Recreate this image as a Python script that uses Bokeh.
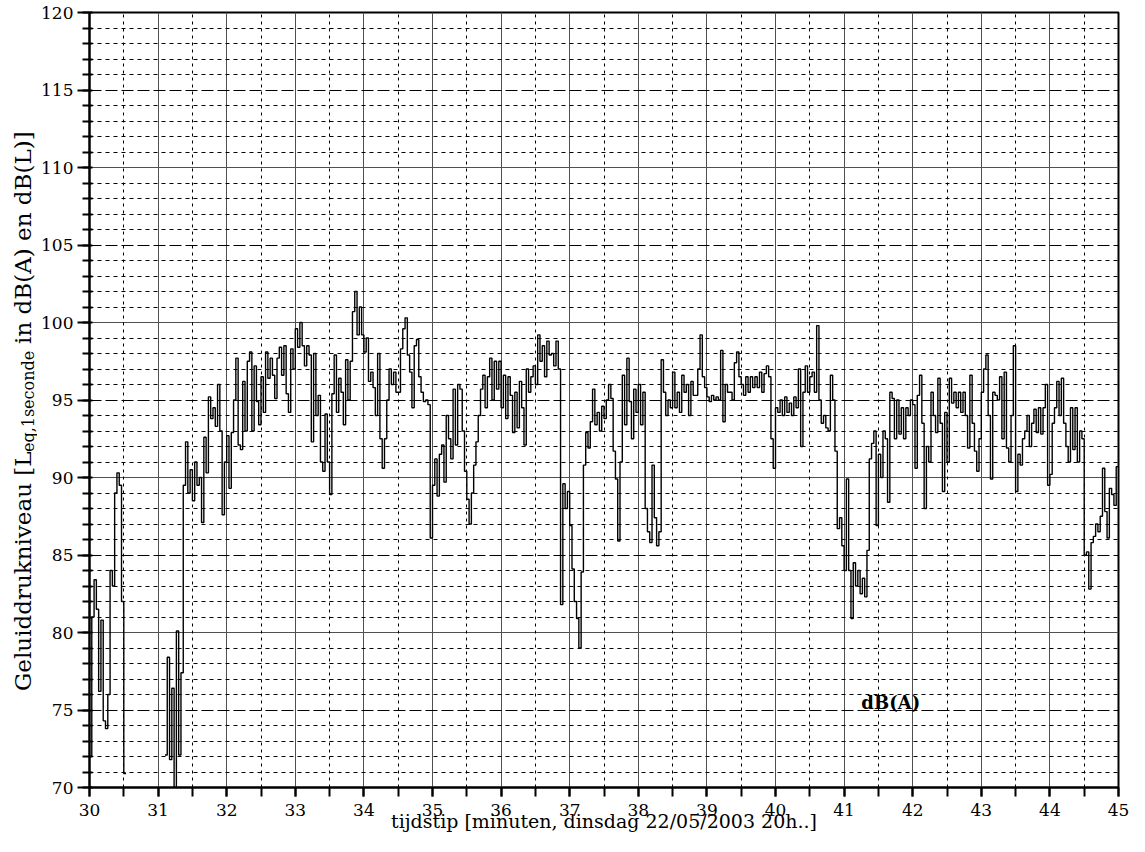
import numpy as np
from bokeh.plotting import figure
from bokeh.layouts import row
from bokeh.models import Range1d, SingleIntervalTicker, FixedTicker, Grid, Label
from bokeh.core.properties import value
from bokeh.embed import file_html
from bokeh.resources import INLINE

nan = float("nan")

# Sound level (dB(A)), one value every 2 seconds, one list per minute (20h30 .. 20h44)
m30 = [72, 81, 83.4, 81.5, 76.2, 80.8, 74.3, 73.8, 76, 84, 83, 89, 90.3, 89.5, 82,
       70.9, nan, nan, nan, nan, nan, nan, nan, nan, nan, nan, nan, nan, nan, nan]
m31 = [nan, nan, nan, 72.1, 78.4, 71.8, 76.4, 70.0, 80.1, 72.1, 77.4, 89.5, 92.3, 89, 90.5,
       88.5, 91, 89.5, 90, 87.1, 92.6, 90.3, 95.2, 93.8, 94.5, 93.3, 96, 93, 87.6, 91]
m32 = [92.7, 89.3, 92.9, 95, 97.7, 92.1, 91.8, 96.2, 93, 97.5, 98.1, 93, 97.2, 94.9, 93.4,
       96.5, 94.2, 98.1, 96.4, 97.7, 96.6, 95.1, 97.7, 98.4, 96.6, 98.5, 95.4, 94.2, 98.3, 97]
m33 = [99.6, 98.4, 100, 98.5, 97.2, 98.5, 97.9, 92.3, 98, 94, 95.3, 91, 90.4, 94.1, 91,
       88.9, 95.4, 97.9, 94.2, 96.4, 95.5, 93.4, 97.6, 95, 97.5, 100.7, 102, 99.2, 101, 99.2]
m34 = [98.1, 99, 96.2, 96.8, 95.8, 94, 98, 92.5, 90.6, 92.5, 95, 97, 96, 96.8, 95.5,
       95.5, 98.3, 99.6, 100.3, 97.9, 96.8, 94.5, 98.5, 98.9, 96.5, 95.5, 94.9, 95, 94.7, 86.1]
m35 = [89.5, 91.2, 88.8, 91.5, 92.1, 89.7, 94, 92.5, 91.2, 95.7, 92.1, 96, 95.7, 93, 90.4,
       88.6, 87, 89, 90.8, 92.3, 94, 95.7, 96.6, 94.5, 96.5, 97.7, 95, 97.5, 95.7, 97.5]
m36 = [94.5, 96.6, 93.8, 96.5, 95.3, 92.9, 95.5, 93.2, 96.2, 94.5, 92.1, 97, 95.5, 96.5, 97.2,
       96, 99.2, 97.5, 98.5, 96.5, 98.8, 97.9, 98, 97.2, 98.8, 97, 81.8, 89.6, 88, 89.1]
m37 = [86.9, 84.1, 82, 80.9, 79, 83.9, 90.8, 92.9, 91.9, 93.6, 95.7, 93.4, 94.2, 93, 94.6,
       93.8, 95, 96, 95.1, 91.7, 89.9, 85.9, 91, 96.6, 93.4, 97.7, 94.9, 92.5, 95.7, 94.2]
m38 = [96, 93.4, 95.5, 88, 86.5, 85.8, 90.8, 87.4, 85.6, 86.5, 97.6, 95.5, 94, 95, 94.5,
       96.8, 94.5, 95.5, 94.2, 96.6, 95.5, 96, 94, 96.2, 95.3, 95.3, 97, 99.2, 96.5, 95.8]
m39 = [95.2, 94.9, 95.3, 95, 95.2, 95, 98.2, 93.6, 96, 95.5, 95.5, 95, 97.4, 98.1, 96.5,
       96, 95.3, 96.5, 95.5, 96.5, 95.8, 96.5, 95.8, 96.8, 95.5, 96.7, 97.2, 96.5, 92.5, 90.6]
m40 = [94.5, 94.2, 95, 94, 95.2, 94.2, 94.8, 94, 95.2, 94.5, 97, 92, 95.5, 97.2, 95.5,
       96.5, 96.8, 95.5, 99.8, 95, 93.5, 94, 93.2, 93, 96.6, 95, 91.7, 86.7, 87.4, 85.6]
m41 = [84, 89.9, 84, 80.9, 84.5, 83, 84, 82.5, 83.5, 82.3, 85.3, 91.2, 92.2, 93, 86.9,
       91.5, 90, 93, 92.5, 88.4, 95.5, 95.1, 92.5, 95, 92.8, 94.5, 92.5, 94.5, 94, 95]
m42 = [94.7, 90.6, 95.3, 96.6, 93.5, 88, 92, 91, 95.5, 94, 92.9, 96.4, 93.5, 89.1, 94.2,
       91, 96.4, 94.8, 95.5, 94.5, 95.5, 94.2, 95.5, 94, 91.9, 96.6, 93.5, 91.7, 90.4, 92.5]
m43 = [95.5, 97, 97.9, 94, 89.9, 95.5, 95.3, 95, 96.5, 92.5, 96.8, 91.9, 91, 94, 98.5,
       89.1, 91.5, 90.8, 92.5, 93, 94, 92, 93.5, 94.4, 92.9, 94.5, 92.8, 94.5, 96, 89.5]
m44 = [90.2, 93.5, 94.5, 96.2, 94, 96.4, 93.5, 92, 91, 94.5, 91.8, 94.5, 91, 93, 92.5,
       85, 85.2, 82.8, 85.8, 86.2, 87, 86.5, 87.5, 90.6, 87.8, 86.1, 89.3, 88.9, 88.2, 90.7]

minutes = [m30, m31, m32, m33, m34, m35, m36, m37, m38, m39, m40, m41, m42, m43, m44]
step_seconds = 2
x_start, x_end = 30, 45
y_start, y_end = 70, 120

x_title = "tijdstip [minuten, dinsdag 22/05/2003 20h..]"
y_title_parts = ["Geluiddrukniveau [L", "eq,1seconde", "in dB(A) en dB(L)]"]
series_label = "dB(A)"

levels = np.array([v for m in minutes for v in m], dtype=float)
edges = x_start + np.arange(len(levels) + 1) * step_seconds / 60.0

SERIF = "DejaVu Serif"
TOTAL_W, TOTAL_H = 1129, 836
SIDE_W = 37
TOP, BOTTOM = 12, 49

# ---------------- main plot ----------------
p = figure(width=TOTAL_W - SIDE_W, height=TOTAL_H,
           x_range=Range1d(x_start, x_end), y_range=Range1d(y_start, y_end),
           output_backend="svg", toolbar_location=None,
           min_border_left=52, min_border_right=11, min_border_top=TOP, min_border_bottom=BOTTOM)
p.background_fill_color = "white"
p.border_fill_color = "white"
p.outline_line_color = "black"
p.outline_line_width = 2

# grids
p.xgrid.ticker = SingleIntervalTicker(interval=1)
p.xgrid.grid_line_color = "#505050"
p.xgrid.grid_line_width = 1
half_minutes = [x_start + 0.5 + i for i in range(x_end - x_start)]
p.add_layout(Grid(dimension=0, ticker=FixedTicker(ticks=half_minutes),
                  grid_line_color="black", grid_line_width=1, grid_line_dash="3 4"))
tens = [v for v in range(y_start, y_end + 1) if v % 10 == 0]
fives = [v for v in range(y_start, y_end + 1) if v % 5 == 0 and v % 10 != 0]
ones = [v for v in range(y_start, y_end + 1) if v % 5 != 0]
p.ygrid.ticker = FixedTicker(ticks=tens)
p.ygrid.grid_line_color = "#505050"
p.ygrid.grid_line_width = 1
p.add_layout(Grid(dimension=1, ticker=FixedTicker(ticks=fives),
                  grid_line_color="black", grid_line_width=1, grid_line_dash="12 4"))
p.add_layout(Grid(dimension=1, ticker=FixedTicker(ticks=ones),
                  grid_line_color="black", grid_line_width=1, grid_line_dash="4 4"))

# axes
for ax in (p.xaxis, p.yaxis):
    ax.axis_line_color = "black"
    ax.axis_line_width = 2
    ax.major_tick_line_color = "black"
    ax.minor_tick_line_color = "black"
    ax.major_tick_line_width = 2
    ax.minor_tick_line_width = 2
    ax.major_label_text_font = SERIF
    ax.major_label_text_font_size = "17px"
    ax.major_label_text_color = "black"
p.xaxis.ticker = SingleIntervalTicker(interval=1, num_minor_ticks=2)
p.xaxis.major_tick_out = 9
p.xaxis.major_tick_in = 0
p.xaxis.minor_tick_out = 9
p.xaxis.minor_tick_in = 0
p.xaxis.major_label_standoff = 7
p.xaxis.axis_label = x_title
p.xaxis.axis_label_text_font = SERIF
p.xaxis.axis_label_text_font_size = "19px"
p.xaxis.axis_label_text_font_style = "normal"
p.xaxis.axis_label_text_color = "black"
p.xaxis.axis_label_standoff = -9
p.yaxis.ticker = SingleIntervalTicker(interval=5, num_minor_ticks=5)
p.yaxis.major_tick_out = 12
p.yaxis.major_tick_in = 0
p.yaxis.minor_tick_out = 7
p.yaxis.minor_tick_in = 3
p.yaxis.major_label_standoff = 4

# data: step line, broken where values are missing
valid = ~np.isnan(levels)
flags = np.diff(np.concatenate([[0], valid.astype(int), [0]]))
starts = np.flatnonzero(flags == 1)
stops = np.flatnonzero(flags == -1)
for a, b in zip(starts, stops):
    xs = edges[a:b + 1]
    ys = np.append(levels[a:b], levels[b - 1])
    p.step(xs, ys, mode="after", line_color="black", line_width=1.4)

p.add_layout(Label(x=41.68, y=75.5, text=series_label, text_font=SERIF,
                   text_font_size="18px", text_font_style="bold", text_color="black",
                   text_align="center", text_baseline="alphabetic"))

# ---------------- side strip with the rotated y title ----------------
# its frame is aligned with the main frame, so it shares the dB scale
s = figure(width=SIDE_W, height=TOTAL_H, x_range=Range1d(0, SIDE_W), y_range=p.y_range,
           output_backend="svg", toolbar_location=None, x_axis_type=None, y_axis_type=None,
           min_border_left=0, min_border_right=0, min_border_top=TOP, min_border_bottom=BOTTOM)
s.outline_line_color = None
s.background_fill_color = "white"
s.border_fill_color = "white"

px_per_db = (TOTAL_H - TOP - BOTTOM) / (y_end - y_start)

def page_y_to_db(py):
    return y_end - (py - TOP) / px_per_db

main_fs, sub_fs = 23, 16
w1 = 10.37 * main_fs          # estimated width of first piece
w2 = 6.32 * sub_fs            # estimated width of subscript
w3 = 9.21 * main_fs           # estimated width of last piece
gap = 0.318 * main_fs         # a space
start_py = 690
main_base, sub_base = 30, 34
mid = 0.346                   # em offset from baseline to the middle of the text box
pieces = [
    (y_title_parts[0], main_base - mid * main_fs, start_py - w1 / 2, main_fs),
    (y_title_parts[1], sub_base - mid * sub_fs, start_py - w1 - w2 / 2, sub_fs),
    (y_title_parts[2], main_base - mid * main_fs, start_py - w1 - w2 - gap - w3 / 2, main_fs),
]
for txt, px, py, fs in pieces:
    s.text(x=[px], y=[page_y_to_db(py)], text=[txt], angle=np.pi / 2,
           text_font=value(SERIF), text_font_size=value(f"{fs}px"),
           text_align="center", text_baseline="middle", text_color="black")

layout = row(s, p)
open("out.html", "w").write(file_html(layout, INLINE))
